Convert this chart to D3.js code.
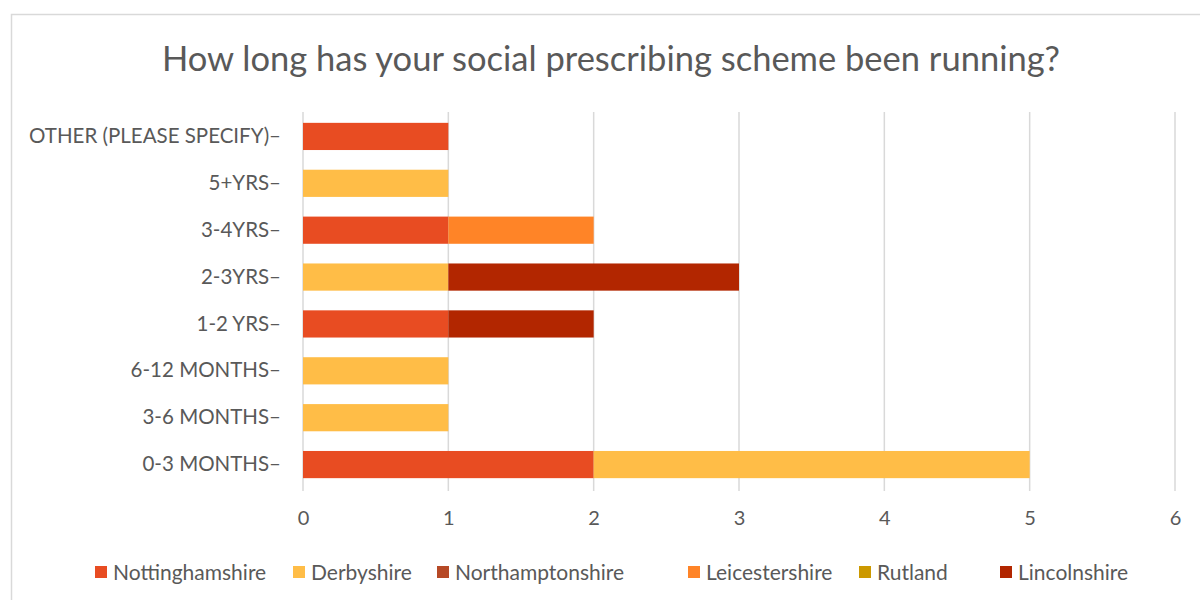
<!DOCTYPE html>
<html lang="en">
<head>
<meta charset="UTF-8">
<title>How long has your social prescribing scheme been running?</title>
<script src="https://d3js.org/d3.v7.min.js"></script>
<style>
    body { margin: 0; background: #fff; }
    svg { display: block; }
    svg text { font-family: Lato, "Open Sans", sans-serif; }
    .tick text { fill: #595959; }
</style>
</head>
<body>
<div id="chart"></div>
<script>
// categories, top to bottom
var categories = ["OTHER (PLEASE SPECIFY)", "5+YRS", "3-4YRS", "2-3YRS", "1-2 YRS", "6-12 MONTHS", "3-6 MONTHS", "0-3 MONTHS"];
var counties = ["Nottinghamshire", "Derbyshire", "Northamptonshire", "Leicestershire", "Rutland", "Lincolnshire"];
var colours = ["#e84c22", "#ffbd47", "#b64926", "#ff8427", "#cc9900", "#b22600"];

// counts per category, same order as categories
var nottinghamshire = [1, 0, 1, 0, 1, 0, 0, 2];
var derbyshire      = [0, 1, 0, 1, 0, 1, 1, 3];
var northamptonshire = [0, 0, 0, 0, 0, 0, 0, 0];
var leicestershire  = [0, 0, 1, 0, 0, 0, 0, 0];
var rutland         = [0, 0, 0, 0, 0, 0, 0, 0];
var lincolnshire    = [0, 0, 0, 2, 1, 0, 0, 0];
var xTicks = [0, 1, 2, 3, 4, 5, 6];

var W = 1200, H = 600;
var svg = d3.select("#chart").append("svg")
    .attr("width", W).attr("height", H);

// chart border
svg.append("rect")
    .attr("x", 11.5).attr("y", 14.5)
    .attr("width", W).attr("height", H)
    .attr("fill", "none")
    .attr("stroke", "#d9d9d9")
    .attr("stroke-width", 1.5);

svg.append("text")
    .attr("x", 611).attr("y", 71)
    .attr("text-anchor", "middle")
    .attr("fill", "#595959")
    .style("font-size", "34.5px")
    .text("How long has your social prescribing scheme been running?");

var series = [nottinghamshire, derbyshire, northamptonshire, leicestershire, rutland, lincolnshire];
var rows = categories.map(function(c, i) {
    var r = { cat: c };
    counties.forEach(function(k, j) { r[k] = series[j][i]; });
    return r;
});
var stacked = d3.stack().keys(counties)(rows);

var x = d3.scaleLinear().domain([0, 6]).range([303, 1175]);
var y = d3.scaleBand().domain(categories).range([113, 488]).paddingInner(0.42).paddingOuter(0.21);
var color = d3.scaleOrdinal().domain(counties).range(colours);

// vertical gridlines
svg.append("g")
    .selectAll("line")
    .data(xTicks)
    .enter().append("line")
    .attr("x1", d => x(d)).attr("x2", d => x(d))
    .attr("y1", 112).attr("y2", 491)
    .attr("stroke", "#d9d9d9")
    .attr("stroke-width", 1.5);

// bars
svg.append("g")
    .selectAll("g")
    .data(stacked)
    .enter().append("g")
    .attr("fill", d => color(d.key))
    .selectAll("rect")
    .data(d => d.filter(p => p[1] > p[0]))
    .enter().append("rect")
    .attr("x", d => x(d[0]))
    .attr("y", d => y(d.data.cat))
    .attr("width", d => x(d[1]) - x(d[0]))
    .attr("height", y.bandwidth());

// x axis labels
var xAxis = svg.append("g")
    .attr("transform", "translate(0,511)")
    .call(d3.axisBottom(x).tickValues(xTicks).tickSize(0).tickPadding(0).tickFormat(d3.format("d")));
xAxis.select(".domain").remove();
xAxis.selectAll("text").style("font-size", "20px").attr("dy", "0.71em");

// category labels (with trailing dash, as in the original)
var yAxis = svg.append("g")
    .attr("transform", "translate(281,0)")
    .call(d3.axisLeft(y).tickSize(0).tickPadding(0).tickFormat(d => d + "\u2013"));
yAxis.select(".domain").remove();
yAxis.selectAll("text").style("font-size", "20.5px");

// legend
var legendX = [95, 293, 437, 688, 859, 1000];
var legend = svg.append("g")
    .selectAll("g")
    .data(counties)
    .enter().append("g")
    .attr("transform", (d, i) => "translate(" + legendX[i] + ",566)");
legend.append("rect")
    .attr("width", 12).attr("height", 12)
    .attr("fill", d => color(d));
legend.append("text")
    .attr("x", 18).attr("y", 6).attr("dy", "0.36em")
    .attr("fill", "#595959")
    .style("font-size", "21px")
    .text(d => d);
</script>
</body>
</html>
